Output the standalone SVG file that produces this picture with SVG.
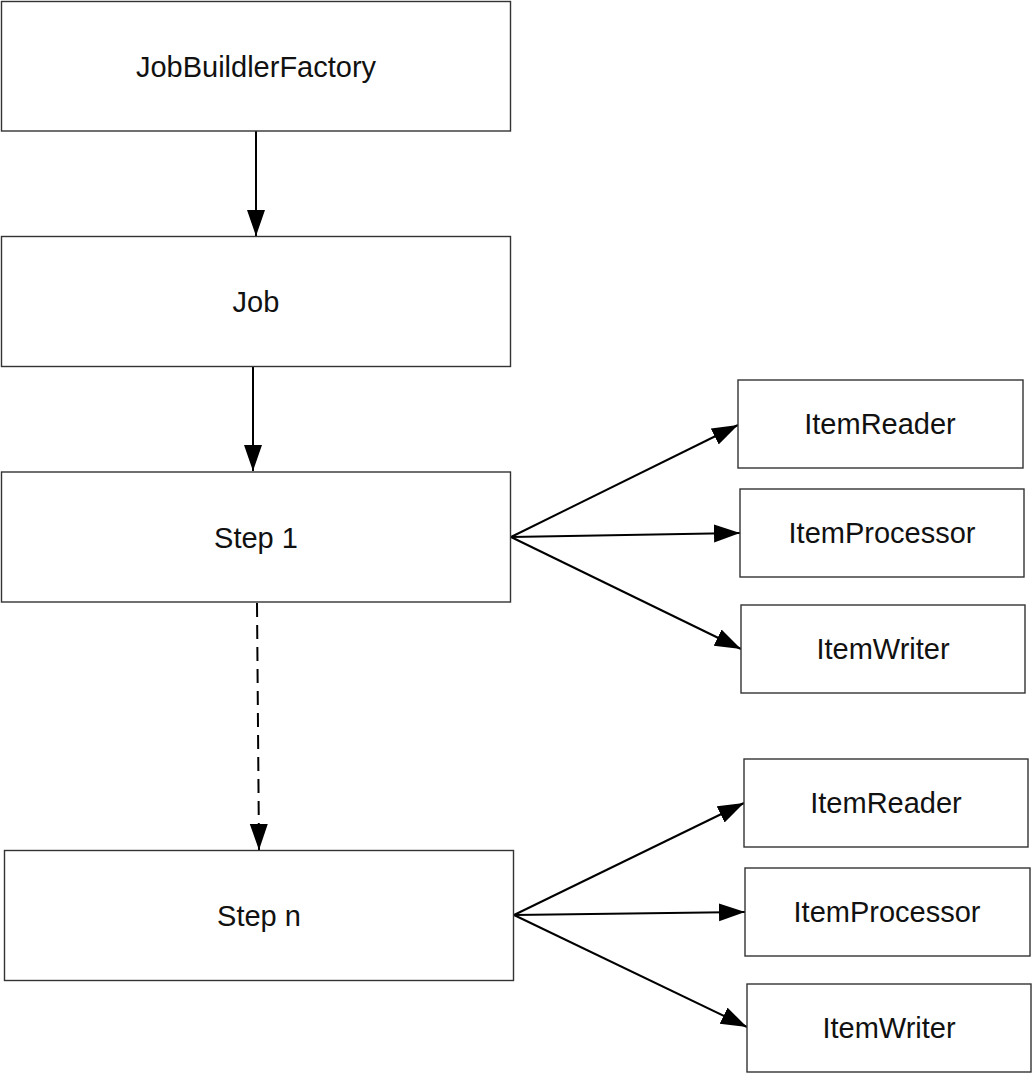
<svg xmlns="http://www.w3.org/2000/svg" width="1033" height="1074" viewBox="0 0 1033 1074">
<style>
.box{fill:#fff;stroke:#333;stroke-width:1.4}
.lbl{font-family:"Liberation Sans",Arial,sans-serif;font-size:29px;fill:#111;text-anchor:middle;dominant-baseline:central}
.c{stroke:#000;stroke-width:2;fill:none}
.d{stroke-dasharray:14,8}
</style>
<defs>
<marker id="ah" markerUnits="userSpaceOnUse" markerWidth="27" markerHeight="19" refX="26" refY="9" orient="auto">
<path d="M0,0 L26,9 L0,18 Z" fill="#000"/>
</marker>
</defs>
<rect width="1033" height="1074" fill="#fff"/>
<g id="connectors">
<line class="c" x1="256" y1="131" x2="256" y2="236" marker-end="url(#ah)"/>
<line class="c" x1="253" y1="367" x2="253" y2="471" marker-end="url(#ah)"/>
<line class="c d" x1="257" y1="603" x2="259" y2="850" marker-end="url(#ah)"/>
<line class="c" x1="511" y1="537" x2="738" y2="425" marker-end="url(#ah)"/>
<line class="c" x1="511" y1="537" x2="740" y2="533" marker-end="url(#ah)"/>
<line class="c" x1="511" y1="537" x2="741" y2="649" marker-end="url(#ah)"/>
<line class="c" x1="514" y1="915" x2="744" y2="803" marker-end="url(#ah)"/>
<line class="c" x1="514" y1="915" x2="745" y2="912" marker-end="url(#ah)"/>
<line class="c" x1="514" y1="915" x2="747" y2="1027" marker-end="url(#ah)"/>
</g>
<g id="jobBuilderFactory"><rect class="box" x="1.5" y="1.5" width="509" height="129.5"/><text class="lbl" x="256" y="67">JobBuildlerFactory</text></g>
<g id="job"><rect class="box" x="1.5" y="236.5" width="509" height="130"/><text class="lbl" x="256" y="302">Job</text></g>
<g id="step1"><rect class="box" x="1.5" y="472" width="509" height="130"/><text class="lbl" x="256" y="538">Step 1</text></g>
<g id="stepn"><rect class="box" x="4.5" y="850.5" width="509" height="130"/><text class="lbl" x="259" y="916">Step n</text></g>
<g id="reader1"><rect class="box" x="738" y="380" width="285" height="88"/><text class="lbl" x="880" y="424">ItemReader</text></g>
<g id="processor1"><rect class="box" x="740" y="489" width="284" height="88"/><text class="lbl" x="882" y="533">ItemProcessor</text></g>
<g id="writer1"><rect class="box" x="741" y="605" width="284" height="88"/><text class="lbl" x="883" y="649">ItemWriter</text></g>
<g id="reader2"><rect class="box" x="744" y="759" width="284" height="88"/><text class="lbl" x="886" y="803">ItemReader</text></g>
<g id="processor2"><rect class="box" x="745" y="868" width="285" height="88"/><text class="lbl" x="887" y="912">ItemProcessor</text></g>
<g id="writer2"><rect class="box" x="747" y="984" width="284" height="88"/><text class="lbl" x="889" y="1028">ItemWriter</text></g>
</svg>
